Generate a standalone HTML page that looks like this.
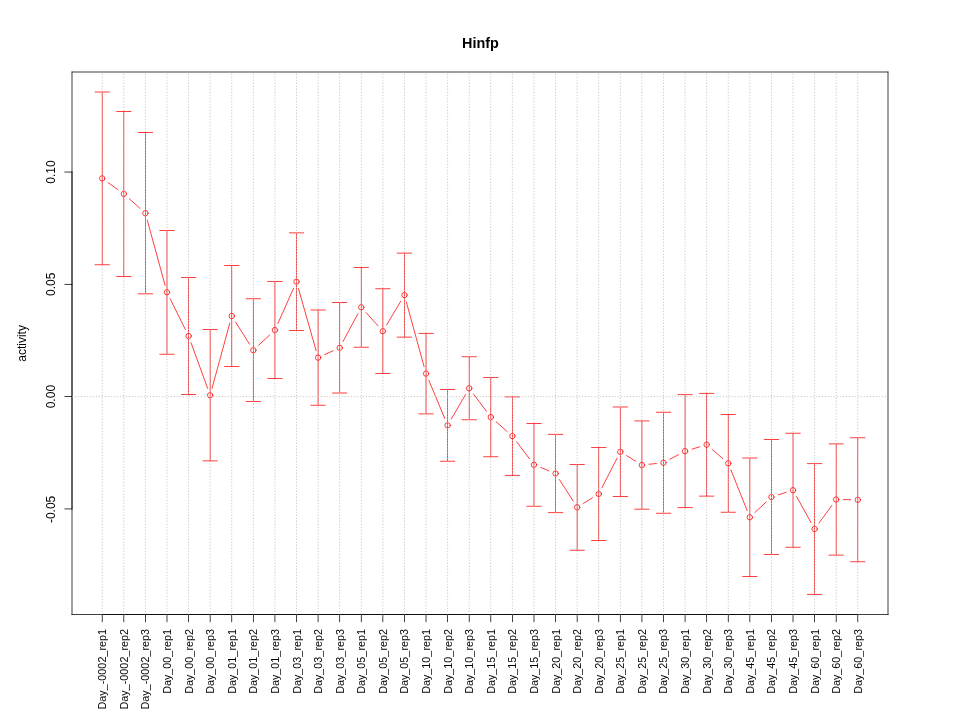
<!DOCTYPE html>
<html><head><meta charset="utf-8"><title>Hinfp</title>
<style>html,body{margin:0;padding:0;background:#fff;}svg{display:block;will-change:transform;}text{font-family:"Liberation Sans",sans-serif;fill:#000;}</style></head><body>
<svg width="960" height="720" viewBox="0 0 960 720">
<defs><clipPath id="pr"><rect x="72" y="72" width="816" height="542.6"/></clipPath></defs>
<rect x="0" y="0" width="960" height="720" fill="#ffffff"/>
<g stroke="#ff0000" stroke-width="0.75" fill="none" stroke-linecap="round">
<line x1="108.07" y1="182.60" x2="117.96" y2="189.70"/>
<line x1="129.18" y1="198.70" x2="140.03" y2="208.40"/>
<line x1="147.29" y1="220.15" x2="165.09" y2="285.35"/>
<line x1="170.17" y1="298.76" x2="185.38" y2="329.54"/>
<line x1="191.04" y1="342.76" x2="207.69" y2="388.44"/>
<line x1="212.05" y1="388.25" x2="229.85" y2="322.95"/>
<line x1="235.59" y1="322.09" x2="249.49" y2="344.11"/>
<line x1="258.60" y1="345.29" x2="269.65" y2="335.01"/>
<line x1="277.85" y1="323.52" x2="293.58" y2="288.28"/>
<line x1="298.48" y1="288.63" x2="316.13" y2="350.67"/>
<line x1="324.65" y1="354.62" x2="333.13" y2="350.78"/>
<line x1="343.07" y1="341.45" x2="357.88" y2="313.65"/>
<line x1="366.10" y1="312.64" x2="378.03" y2="325.86"/>
<line x1="386.55" y1="325.02" x2="400.75" y2="301.28"/>
<line x1="406.35" y1="302.04" x2="424.12" y2="366.66"/>
<line x1="428.81" y1="380.24" x2="444.84" y2="418.66"/>
<line x1="451.25" y1="419.08" x2="465.58" y2="394.52"/>
<line x1="473.52" y1="394.06" x2="486.48" y2="411.34"/>
<line x1="496.20" y1="421.86" x2="506.98" y2="431.34"/>
<line x1="516.71" y1="441.85" x2="529.64" y2="459.05"/>
<line x1="540.65" y1="467.49" x2="548.88" y2="470.81"/>
<line x1="559.43" y1="479.57" x2="573.27" y2="501.23"/>
<line x1="583.27" y1="503.52" x2="592.60" y2="497.78"/>
<line x1="602.01" y1="487.59" x2="617.04" y2="458.21"/>
<line x1="626.45" y1="455.57" x2="635.77" y2="461.28"/>
<line x1="649.06" y1="464.27" x2="656.33" y2="463.48"/>
<line x1="669.85" y1="459.31" x2="678.72" y2="454.59"/>
<line x1="691.97" y1="449.12" x2="699.77" y2="446.78"/>
<line x1="712.12" y1="449.40" x2="722.80" y2="458.60"/>
<line x1="730.93" y1="469.99" x2="747.17" y2="510.61"/>
<line x1="755.09" y1="512.37" x2="766.18" y2="501.93"/>
<line x1="778.30" y1="494.84" x2="786.15" y2="492.36"/>
<line x1="796.52" y1="496.49" x2="811.10" y2="522.71"/>
<line x1="818.86" y1="523.19" x2="831.94" y2="505.31"/>
<line x1="843.39" y1="499.60" x2="850.58" y2="499.70"/>
<circle cx="102.22" cy="178.40" r="2.7"/>
<circle cx="123.81" cy="193.90" r="2.7"/>
<circle cx="145.40" cy="213.20" r="2.7"/>
<circle cx="166.98" cy="292.30" r="2.7"/>
<circle cx="188.57" cy="336.00" r="2.7"/>
<circle cx="210.16" cy="395.20" r="2.7"/>
<circle cx="231.75" cy="316.00" r="2.7"/>
<circle cx="253.33" cy="350.20" r="2.7"/>
<circle cx="274.92" cy="330.10" r="2.7"/>
<circle cx="296.51" cy="281.70" r="2.7"/>
<circle cx="318.10" cy="357.60" r="2.7"/>
<circle cx="339.68" cy="347.80" r="2.7"/>
<circle cx="361.27" cy="307.30" r="2.7"/>
<circle cx="382.86" cy="331.20" r="2.7"/>
<circle cx="404.44" cy="295.10" r="2.7"/>
<circle cx="426.03" cy="373.60" r="2.7"/>
<circle cx="447.62" cy="425.30" r="2.7"/>
<circle cx="469.21" cy="388.30" r="2.7"/>
<circle cx="490.79" cy="417.10" r="2.7"/>
<circle cx="512.38" cy="436.10" r="2.7"/>
<circle cx="533.97" cy="464.80" r="2.7"/>
<circle cx="555.56" cy="473.50" r="2.7"/>
<circle cx="577.14" cy="507.30" r="2.7"/>
<circle cx="598.73" cy="494.00" r="2.7"/>
<circle cx="620.32" cy="451.80" r="2.7"/>
<circle cx="641.90" cy="465.05" r="2.7"/>
<circle cx="663.49" cy="462.70" r="2.7"/>
<circle cx="685.08" cy="451.20" r="2.7"/>
<circle cx="706.67" cy="444.70" r="2.7"/>
<circle cx="728.25" cy="463.30" r="2.7"/>
<circle cx="749.84" cy="517.30" r="2.7"/>
<circle cx="771.43" cy="497.00" r="2.7"/>
<circle cx="793.02" cy="490.20" r="2.7"/>
<circle cx="814.60" cy="529.00" r="2.7"/>
<circle cx="836.19" cy="499.50" r="2.7"/>
<circle cx="857.78" cy="499.80" r="2.7"/>
</g>
<g fill="#ff0000" stroke="none">
<rect x="101.847" y="92.000" width="0.75" height="172.800"/>
<rect x="94.647" y="91.625" width="15.150" height="0.75"/>
<rect x="94.647" y="264.425" width="15.150" height="0.75"/>
<rect x="123.435" y="111.400" width="0.75" height="165.000"/>
<rect x="116.235" y="111.025" width="15.150" height="0.75"/>
<rect x="116.235" y="276.025" width="15.150" height="0.75"/>
<rect x="145.022" y="132.550" width="0.75" height="161.300"/>
<rect x="137.822" y="132.175" width="15.150" height="0.75"/>
<rect x="137.822" y="293.475" width="15.150" height="0.75"/>
<rect x="166.609" y="230.400" width="0.75" height="123.800"/>
<rect x="159.409" y="230.025" width="15.150" height="0.75"/>
<rect x="159.409" y="353.825" width="15.150" height="0.75"/>
<rect x="188.196" y="277.400" width="0.75" height="117.200"/>
<rect x="180.996" y="277.025" width="15.150" height="0.75"/>
<rect x="180.996" y="394.225" width="15.150" height="0.75"/>
<rect x="209.784" y="329.500" width="0.75" height="131.400"/>
<rect x="202.584" y="329.125" width="15.150" height="0.75"/>
<rect x="202.584" y="460.525" width="15.150" height="0.75"/>
<rect x="231.371" y="265.400" width="0.75" height="101.200"/>
<rect x="224.171" y="265.025" width="15.150" height="0.75"/>
<rect x="224.171" y="366.225" width="15.150" height="0.75"/>
<rect x="252.958" y="298.800" width="0.75" height="102.800"/>
<rect x="245.758" y="298.425" width="15.150" height="0.75"/>
<rect x="245.758" y="401.225" width="15.150" height="0.75"/>
<rect x="274.546" y="281.600" width="0.75" height="97.000"/>
<rect x="267.346" y="281.225" width="15.150" height="0.75"/>
<rect x="267.346" y="378.225" width="15.150" height="0.75"/>
<rect x="296.133" y="232.900" width="0.75" height="97.600"/>
<rect x="288.933" y="232.525" width="15.150" height="0.75"/>
<rect x="288.933" y="330.125" width="15.150" height="0.75"/>
<rect x="317.720" y="310.000" width="0.75" height="95.200"/>
<rect x="310.520" y="309.625" width="15.150" height="0.75"/>
<rect x="310.520" y="404.825" width="15.150" height="0.75"/>
<rect x="339.308" y="302.600" width="0.75" height="90.400"/>
<rect x="332.108" y="302.225" width="15.150" height="0.75"/>
<rect x="332.108" y="392.625" width="15.150" height="0.75"/>
<rect x="360.895" y="267.400" width="0.75" height="79.800"/>
<rect x="353.695" y="267.025" width="15.150" height="0.75"/>
<rect x="353.695" y="346.825" width="15.150" height="0.75"/>
<rect x="382.482" y="288.800" width="0.75" height="84.800"/>
<rect x="375.282" y="288.425" width="15.150" height="0.75"/>
<rect x="375.282" y="373.225" width="15.150" height="0.75"/>
<rect x="404.069" y="253.100" width="0.75" height="84.000"/>
<rect x="396.869" y="252.725" width="15.150" height="0.75"/>
<rect x="396.869" y="336.725" width="15.150" height="0.75"/>
<rect x="425.657" y="333.300" width="0.75" height="80.600"/>
<rect x="418.457" y="332.925" width="15.150" height="0.75"/>
<rect x="418.457" y="413.525" width="15.150" height="0.75"/>
<rect x="447.244" y="389.400" width="0.75" height="71.800"/>
<rect x="440.044" y="389.025" width="15.150" height="0.75"/>
<rect x="440.044" y="460.825" width="15.150" height="0.75"/>
<rect x="468.831" y="356.800" width="0.75" height="63.000"/>
<rect x="461.631" y="356.425" width="15.150" height="0.75"/>
<rect x="461.631" y="419.425" width="15.150" height="0.75"/>
<rect x="490.419" y="377.400" width="0.75" height="79.400"/>
<rect x="483.219" y="377.025" width="15.150" height="0.75"/>
<rect x="483.219" y="456.425" width="15.150" height="0.75"/>
<rect x="512.006" y="396.900" width="0.75" height="78.400"/>
<rect x="504.806" y="396.525" width="15.150" height="0.75"/>
<rect x="504.806" y="474.925" width="15.150" height="0.75"/>
<rect x="533.593" y="423.400" width="0.75" height="82.800"/>
<rect x="526.393" y="423.025" width="15.150" height="0.75"/>
<rect x="526.393" y="505.825" width="15.150" height="0.75"/>
<rect x="555.181" y="434.300" width="0.75" height="78.400"/>
<rect x="547.981" y="433.925" width="15.150" height="0.75"/>
<rect x="547.981" y="512.325" width="15.150" height="0.75"/>
<rect x="576.768" y="464.400" width="0.75" height="85.800"/>
<rect x="569.568" y="464.025" width="15.150" height="0.75"/>
<rect x="569.568" y="549.825" width="15.150" height="0.75"/>
<rect x="598.355" y="447.400" width="0.75" height="93.200"/>
<rect x="591.155" y="447.025" width="15.150" height="0.75"/>
<rect x="591.155" y="540.225" width="15.150" height="0.75"/>
<rect x="619.942" y="407.000" width="0.75" height="89.600"/>
<rect x="612.742" y="406.625" width="15.150" height="0.75"/>
<rect x="612.742" y="496.225" width="15.150" height="0.75"/>
<rect x="641.530" y="420.950" width="0.75" height="88.200"/>
<rect x="634.330" y="420.575" width="15.150" height="0.75"/>
<rect x="634.330" y="508.775" width="15.150" height="0.75"/>
<rect x="663.117" y="412.200" width="0.75" height="101.000"/>
<rect x="655.917" y="411.825" width="15.150" height="0.75"/>
<rect x="655.917" y="512.825" width="15.150" height="0.75"/>
<rect x="684.704" y="394.700" width="0.75" height="113.000"/>
<rect x="677.504" y="394.325" width="15.150" height="0.75"/>
<rect x="677.504" y="507.325" width="15.150" height="0.75"/>
<rect x="706.292" y="393.300" width="0.75" height="102.800"/>
<rect x="699.092" y="392.925" width="15.150" height="0.75"/>
<rect x="699.092" y="495.725" width="15.150" height="0.75"/>
<rect x="727.879" y="414.400" width="0.75" height="97.800"/>
<rect x="720.679" y="414.025" width="15.150" height="0.75"/>
<rect x="720.679" y="511.825" width="15.150" height="0.75"/>
<rect x="749.466" y="458.000" width="0.75" height="118.600"/>
<rect x="742.266" y="457.625" width="15.150" height="0.75"/>
<rect x="742.266" y="576.225" width="15.150" height="0.75"/>
<rect x="771.054" y="439.500" width="0.75" height="115.000"/>
<rect x="763.854" y="439.125" width="15.150" height="0.75"/>
<rect x="763.854" y="554.125" width="15.150" height="0.75"/>
<rect x="792.641" y="433.200" width="0.75" height="114.000"/>
<rect x="785.441" y="432.825" width="15.150" height="0.75"/>
<rect x="785.441" y="546.825" width="15.150" height="0.75"/>
<rect x="814.228" y="463.700" width="0.75" height="130.600"/>
<rect x="807.028" y="463.325" width="15.150" height="0.75"/>
<rect x="807.028" y="593.925" width="15.150" height="0.75"/>
<rect x="835.815" y="443.900" width="0.75" height="111.200"/>
<rect x="828.615" y="443.525" width="15.150" height="0.75"/>
<rect x="828.615" y="554.725" width="15.150" height="0.75"/>
<rect x="857.403" y="437.800" width="0.75" height="124.000"/>
<rect x="850.203" y="437.425" width="15.150" height="0.75"/>
<rect x="850.203" y="561.425" width="15.150" height="0.75"/>
</g>
<g fill="#000000" stroke="none">
<rect x="71.625" y="71.625" width="816.750" height="0.75"/>
<rect x="71.625" y="614.225" width="816.750" height="0.75"/>
<rect x="71.625" y="71.625" width="0.75" height="543.350"/>
<rect x="887.625" y="71.625" width="0.75" height="543.350"/>
<rect x="101.847" y="614.225" width="756.306" height="0.75"/>
<rect x="101.847" y="614.225" width="0.75" height="7.950"/>
<rect x="123.435" y="614.225" width="0.75" height="7.950"/>
<rect x="145.022" y="614.225" width="0.75" height="7.950"/>
<rect x="166.609" y="614.225" width="0.75" height="7.950"/>
<rect x="188.196" y="614.225" width="0.75" height="7.950"/>
<rect x="209.784" y="614.225" width="0.75" height="7.950"/>
<rect x="231.371" y="614.225" width="0.75" height="7.950"/>
<rect x="252.958" y="614.225" width="0.75" height="7.950"/>
<rect x="274.546" y="614.225" width="0.75" height="7.950"/>
<rect x="296.133" y="614.225" width="0.75" height="7.950"/>
<rect x="317.720" y="614.225" width="0.75" height="7.950"/>
<rect x="339.308" y="614.225" width="0.75" height="7.950"/>
<rect x="360.895" y="614.225" width="0.75" height="7.950"/>
<rect x="382.482" y="614.225" width="0.75" height="7.950"/>
<rect x="404.069" y="614.225" width="0.75" height="7.950"/>
<rect x="425.657" y="614.225" width="0.75" height="7.950"/>
<rect x="447.244" y="614.225" width="0.75" height="7.950"/>
<rect x="468.831" y="614.225" width="0.75" height="7.950"/>
<rect x="490.419" y="614.225" width="0.75" height="7.950"/>
<rect x="512.006" y="614.225" width="0.75" height="7.950"/>
<rect x="533.593" y="614.225" width="0.75" height="7.950"/>
<rect x="555.181" y="614.225" width="0.75" height="7.950"/>
<rect x="576.768" y="614.225" width="0.75" height="7.950"/>
<rect x="598.355" y="614.225" width="0.75" height="7.950"/>
<rect x="619.942" y="614.225" width="0.75" height="7.950"/>
<rect x="641.530" y="614.225" width="0.75" height="7.950"/>
<rect x="663.117" y="614.225" width="0.75" height="7.950"/>
<rect x="684.704" y="614.225" width="0.75" height="7.950"/>
<rect x="706.292" y="614.225" width="0.75" height="7.950"/>
<rect x="727.879" y="614.225" width="0.75" height="7.950"/>
<rect x="749.466" y="614.225" width="0.75" height="7.950"/>
<rect x="771.054" y="614.225" width="0.75" height="7.950"/>
<rect x="792.641" y="614.225" width="0.75" height="7.950"/>
<rect x="814.228" y="614.225" width="0.75" height="7.950"/>
<rect x="835.815" y="614.225" width="0.75" height="7.950"/>
<rect x="857.403" y="614.225" width="0.75" height="7.950"/>
<rect x="71.625" y="171.655" width="0.75" height="337.650"/>
<rect x="64.425" y="171.655" width="7.950" height="0.75"/>
<rect x="64.425" y="283.955" width="7.950" height="0.75"/>
<rect x="64.425" y="396.255" width="7.950" height="0.75"/>
<rect x="64.425" y="508.555" width="7.950" height="0.75"/>
</g>
<g clip-path="url(#pr)" stroke="#bebebe" stroke-width="0.75" stroke-dasharray="1.34 1.66" fill="none">
<line x1="102.22" y1="615.020" x2="102.22" y2="69.00"/>
<line x1="123.81" y1="615.020" x2="123.81" y2="69.00"/>
<line x1="145.40" y1="615.020" x2="145.40" y2="69.00"/>
<line x1="166.98" y1="615.020" x2="166.98" y2="69.00"/>
<line x1="188.57" y1="615.020" x2="188.57" y2="69.00"/>
<line x1="210.16" y1="615.020" x2="210.16" y2="69.00"/>
<line x1="231.75" y1="615.020" x2="231.75" y2="69.00"/>
<line x1="253.33" y1="615.020" x2="253.33" y2="69.00"/>
<line x1="274.92" y1="615.020" x2="274.92" y2="69.00"/>
<line x1="296.51" y1="615.020" x2="296.51" y2="69.00"/>
<line x1="318.10" y1="615.020" x2="318.10" y2="69.00"/>
<line x1="339.68" y1="615.020" x2="339.68" y2="69.00"/>
<line x1="361.27" y1="615.020" x2="361.27" y2="69.00"/>
<line x1="382.86" y1="615.020" x2="382.86" y2="69.00"/>
<line x1="404.44" y1="615.020" x2="404.44" y2="69.00"/>
<line x1="426.03" y1="615.020" x2="426.03" y2="69.00"/>
<line x1="447.62" y1="615.020" x2="447.62" y2="69.00"/>
<line x1="469.21" y1="615.020" x2="469.21" y2="69.00"/>
<line x1="490.79" y1="615.020" x2="490.79" y2="69.00"/>
<line x1="512.38" y1="615.020" x2="512.38" y2="69.00"/>
<line x1="533.97" y1="615.020" x2="533.97" y2="69.00"/>
<line x1="555.56" y1="615.020" x2="555.56" y2="69.00"/>
<line x1="577.14" y1="615.020" x2="577.14" y2="69.00"/>
<line x1="598.73" y1="615.020" x2="598.73" y2="69.00"/>
<line x1="620.32" y1="615.020" x2="620.32" y2="69.00"/>
<line x1="641.90" y1="615.020" x2="641.90" y2="69.00"/>
<line x1="663.49" y1="615.020" x2="663.49" y2="69.00"/>
<line x1="685.08" y1="615.020" x2="685.08" y2="69.00"/>
<line x1="706.67" y1="615.020" x2="706.67" y2="69.00"/>
<line x1="728.25" y1="615.020" x2="728.25" y2="69.00"/>
<line x1="749.84" y1="615.020" x2="749.84" y2="69.00"/>
<line x1="771.43" y1="615.020" x2="771.43" y2="69.00"/>
<line x1="793.02" y1="615.020" x2="793.02" y2="69.00"/>
<line x1="814.60" y1="615.020" x2="814.60" y2="69.00"/>
<line x1="836.19" y1="615.020" x2="836.19" y2="69.00"/>
<line x1="857.78" y1="615.020" x2="857.78" y2="69.00"/>
<line x1="71.705" y1="396.63" x2="891.00" y2="396.63"/>
</g>
<g opacity="0.999">
<text x="480.5" y="47.8" font-size="14.4" font-weight="bold" text-anchor="middle">Hinfp</text>
<text transform="translate(25.9 343.45) rotate(-90)" font-size="12" text-anchor="middle">activity</text>
<text transform="translate(54.7 172.03) rotate(-90)" font-size="12" text-anchor="middle">0.10</text>
<text transform="translate(54.7 284.33) rotate(-90)" font-size="12" text-anchor="middle">0.05</text>
<text transform="translate(54.7 396.63) rotate(-90)" font-size="12" text-anchor="middle">0.00</text>
<text transform="translate(54.7 509.43) rotate(-90)" font-size="12" text-anchor="middle">-0.05</text>
<text transform="translate(106.22 629.00) rotate(-90)" font-size="10.8" text-anchor="end">Day_-0002_rep1</text>
<text transform="translate(127.81 629.00) rotate(-90)" font-size="10.8" text-anchor="end">Day_-0002_rep2</text>
<text transform="translate(149.40 629.00) rotate(-90)" font-size="10.8" text-anchor="end">Day_-0002_rep3</text>
<text transform="translate(170.98 629.00) rotate(-90)" font-size="10.8" text-anchor="end">Day_00_rep1</text>
<text transform="translate(192.57 629.00) rotate(-90)" font-size="10.8" text-anchor="end">Day_00_rep2</text>
<text transform="translate(214.16 629.00) rotate(-90)" font-size="10.8" text-anchor="end">Day_00_rep3</text>
<text transform="translate(235.75 629.00) rotate(-90)" font-size="10.8" text-anchor="end">Day_01_rep1</text>
<text transform="translate(257.33 629.00) rotate(-90)" font-size="10.8" text-anchor="end">Day_01_rep2</text>
<text transform="translate(278.92 629.00) rotate(-90)" font-size="10.8" text-anchor="end">Day_01_rep3</text>
<text transform="translate(300.51 629.00) rotate(-90)" font-size="10.8" text-anchor="end">Day_03_rep1</text>
<text transform="translate(322.10 629.00) rotate(-90)" font-size="10.8" text-anchor="end">Day_03_rep2</text>
<text transform="translate(343.68 629.00) rotate(-90)" font-size="10.8" text-anchor="end">Day_03_rep3</text>
<text transform="translate(365.27 629.00) rotate(-90)" font-size="10.8" text-anchor="end">Day_05_rep1</text>
<text transform="translate(386.86 629.00) rotate(-90)" font-size="10.8" text-anchor="end">Day_05_rep2</text>
<text transform="translate(408.44 629.00) rotate(-90)" font-size="10.8" text-anchor="end">Day_05_rep3</text>
<text transform="translate(430.03 629.00) rotate(-90)" font-size="10.8" text-anchor="end">Day_10_rep1</text>
<text transform="translate(451.62 629.00) rotate(-90)" font-size="10.8" text-anchor="end">Day_10_rep2</text>
<text transform="translate(473.21 629.00) rotate(-90)" font-size="10.8" text-anchor="end">Day_10_rep3</text>
<text transform="translate(494.79 629.00) rotate(-90)" font-size="10.8" text-anchor="end">Day_15_rep1</text>
<text transform="translate(516.38 629.00) rotate(-90)" font-size="10.8" text-anchor="end">Day_15_rep2</text>
<text transform="translate(537.97 629.00) rotate(-90)" font-size="10.8" text-anchor="end">Day_15_rep3</text>
<text transform="translate(559.56 629.00) rotate(-90)" font-size="10.8" text-anchor="end">Day_20_rep1</text>
<text transform="translate(581.14 629.00) rotate(-90)" font-size="10.8" text-anchor="end">Day_20_rep2</text>
<text transform="translate(602.73 629.00) rotate(-90)" font-size="10.8" text-anchor="end">Day_20_rep3</text>
<text transform="translate(624.32 629.00) rotate(-90)" font-size="10.8" text-anchor="end">Day_25_rep1</text>
<text transform="translate(645.90 629.00) rotate(-90)" font-size="10.8" text-anchor="end">Day_25_rep2</text>
<text transform="translate(667.49 629.00) rotate(-90)" font-size="10.8" text-anchor="end">Day_25_rep3</text>
<text transform="translate(689.08 629.00) rotate(-90)" font-size="10.8" text-anchor="end">Day_30_rep1</text>
<text transform="translate(710.67 629.00) rotate(-90)" font-size="10.8" text-anchor="end">Day_30_rep2</text>
<text transform="translate(732.25 629.00) rotate(-90)" font-size="10.8" text-anchor="end">Day_30_rep3</text>
<text transform="translate(753.84 629.00) rotate(-90)" font-size="10.8" text-anchor="end">Day_45_rep1</text>
<text transform="translate(775.43 629.00) rotate(-90)" font-size="10.8" text-anchor="end">Day_45_rep2</text>
<text transform="translate(797.02 629.00) rotate(-90)" font-size="10.8" text-anchor="end">Day_45_rep3</text>
<text transform="translate(818.60 629.00) rotate(-90)" font-size="10.8" text-anchor="end">Day_60_rep1</text>
<text transform="translate(840.19 629.00) rotate(-90)" font-size="10.8" text-anchor="end">Day_60_rep2</text>
<text transform="translate(861.78 629.00) rotate(-90)" font-size="10.8" text-anchor="end">Day_60_rep3</text>
</g>
</svg></body></html>
